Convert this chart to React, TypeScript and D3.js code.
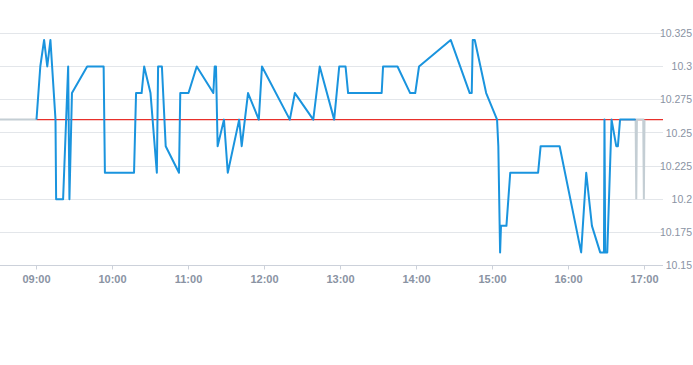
import React from "react";
import * as d3 from "d3";

const prevClose = 10.26;

const preTimes = ["08:30", "09:00"];
const prePrices = [10.26, 10.26];

const times = [
  "09:00", "09:03", "09:06", "09:08:30", "09:11", "09:15", "09:15:30", "09:21", "09:25", "09:26",
  "09:28", "09:40", "09:53", "09:54", "10:17", "10:18:36", "10:23", "10:25", "10:30", "10:35",
  "10:36", "10:39", "10:42", "10:52:30", "10:53:30", "11:00", "11:06:30", "11:19:36", "11:20:42", "11:21:42",
  "11:23", "11:28", "11:31", "11:40", "11:42", "11:47", "11:55:30", "11:58", "12:20", "12:24",
  "12:38:30", "12:43:36", "12:55", "12:59", "13:04", "13:06", "13:32:30", "13:33:36", "13:45", "13:55",
  "13:59", "14:02", "14:27", "14:42", "14:43:36", "14:44:24", "14:46", "14:55", "15:03:36", "15:04:36",
  "15:06", "15:06:42", "15:11", "15:14", "15:36", "15:38", "15:53", "16:10", "16:14", "16:18:30",
  "16:25", "16:28", "16:28:24", "16:29", "16:30:36", "16:34", "16:37:42", "16:39", "16:40:42", "16:53",
];
const prices = [
  10.26, 10.30, 10.32, 10.30, 10.32, 10.26, 10.20, 10.20, 10.30, 10.20,
  10.28, 10.30, 10.30, 10.22, 10.22, 10.28, 10.28, 10.30, 10.28, 10.22,
  10.30, 10.30, 10.24, 10.22, 10.28, 10.28, 10.30, 10.28, 10.30, 10.30,
  10.24, 10.26, 10.22, 10.26, 10.24, 10.28, 10.26, 10.30, 10.26, 10.28,
  10.26, 10.30, 10.26, 10.30, 10.30, 10.28, 10.28, 10.30, 10.30, 10.28,
  10.28, 10.30, 10.32, 10.28, 10.28, 10.32, 10.32, 10.28, 10.26, 10.24,
  10.16, 10.18, 10.18, 10.22, 10.22, 10.24, 10.24, 10.16, 10.22, 10.18,
  10.16, 10.16, 10.26, 10.16, 10.16, 10.26, 10.24, 10.24, 10.26, 10.26,
];

const postTimes = ["16:53", "16:53:30", "16:54", "16:59", "16:59:30", "17:00"];
const postPrices = [10.26, 10.2, 10.26, 10.26, 10.2, 10.26];

const xTickLabels = ["09:00", "10:00", "11:00", "12:00", "13:00", "14:00", "15:00", "16:00", "17:00"];
const yTickValues = [10.15, 10.175, 10.2, 10.225, 10.25, 10.275, 10.3, 10.325];
const xDomain = ["08:30", "17:15"];
const yDomain = [10.15, 10.325];

const parseT = (s: string) => {
  const [h, m, sec] = s.split(":").map(Number);
  return new Date(2024, 0, 2, h, m, sec || 0);
};

const W = 693;
const H = 365;
const plotLeft = -1.5;
const plotRight = 663.5;
const plotTop = 33.3;
const plotBottom = 265.7;
const labelX = 692;

const crisp = (v: number) => Math.floor(v) + 0.5;

export default function App() {
  const x = d3.scaleTime().domain(xDomain.map(parseT)).range([plotLeft, plotRight]);
  const y = d3.scaleLinear().domain(yDomain).range([plotBottom, plotTop]);
  const line = d3
    .line<[string, number]>()
    .x((d) => x(parseT(d[0])))
    .y((d) => y(d[1]));

  const pre = preTimes.map((t, i) => [t, prePrices[i]] as [string, number]);
  const main = times.map((t, i) => [t, prices[i]] as [string, number]);
  const post = postTimes.map((t, i) => [t, postPrices[i]] as [string, number]);

  const font = "'Liberation Sans', Arial, sans-serif";
  const gridRight = 663;
  const axisY = crisp(plotBottom);

  return (
    <div style={{ position: "absolute", left: 0, top: 0 }}>
      <svg width={W} height={H} style={{ display: "block" }}>
        <rect x={0} y={0} width={W} height={H} fill="#fff" />
        {yTickValues.map((v) => (
          <g key={v}>
            {v !== yDomain[0] && (
              <line x1={0} x2={gridRight} y1={crisp(y(v))} y2={crisp(y(v))} stroke="#e3e6ea" strokeWidth={1} />
            )}
            <text
              x={labelX}
              y={y(v)}
              dy="0.35em"
              textAnchor="end"
              fontFamily={font}
              fontSize={10.5}
              fill="#8a93a3"
            >
              {String(+v.toFixed(3))}
            </text>
          </g>
        ))}
        <line x1={0} x2={gridRight} y1={axisY} y2={axisY} stroke="#ccd1da" strokeWidth={1} />
        {xTickLabels.map((t) => {
          const xx = crisp(x(parseT(t)));
          return (
            <g key={t}>
              <line x1={xx} x2={xx} y1={axisY} y2={axisY + 4} stroke="#ccd1da" strokeWidth={1} />
              <text
                x={xx}
                y={279}
                dy="0.35em"
                textAnchor="middle"
                fontFamily={font}
                fontSize={11}
                fontWeight="bold"
                fill="#8a93a3"
              >
                {t}
              </text>
            </g>
          );
        })}
        <line
          x1={x(parseT("09:00"))}
          x2={gridRight}
          y1={y(prevClose)}
          y2={y(prevClose)}
          stroke="#e8302b"
          strokeWidth={1.2}
        />
        <path d={line(pre) || ""} fill="none" stroke="#c4ced4" strokeWidth={2} />
        <path d={line(post) || ""} fill="none" stroke="#c4ced4" strokeWidth={2} />
        <path d={line(main) || ""} fill="none" stroke="#1a94de" strokeWidth={2} strokeLinejoin="round" />
      </svg>
    </div>
  );
}
